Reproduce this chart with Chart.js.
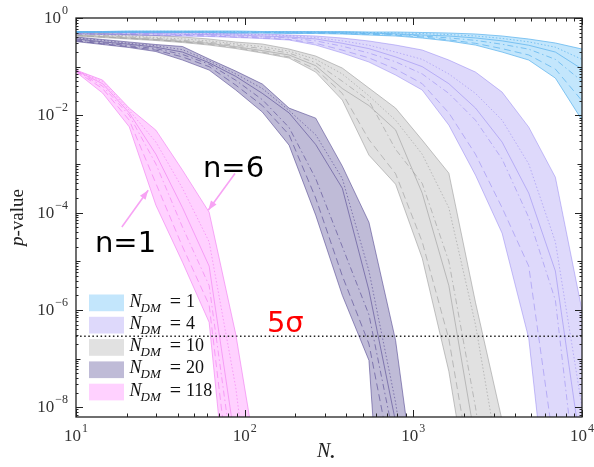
<!DOCTYPE html>
<html>
<head>
<meta charset="utf-8">
<script src="https://cdn.jsdelivr.net/npm/chart.js@4/dist/chart.umd.min.js"></script>
<style>
  body { margin: 0; background: #fff; }
  canvas { display: block; }
</style>
</head>
<body>
<canvas id="myChart" width="594" height="467"></canvas>
<script>
// N_bullet grid (x values)
const N_STARS = [10, 14.38, 20.69, 29.76, 42.81, 61.58, 88.59, 127.4, 183.3, 263.7,
                 379.3, 545.6, 784.8, 1129, 1624, 2336, 3360, 4833, 6952, 10000];

// log10(p-value), one array per curve n=1..6
// N_DM = 1
const dm1_n1 = [-0.298,-0.298,-0.298,-0.298,-0.298,-0.298,-0.309,-0.309,-0.319,-0.319,-0.329,-0.350,-0.370,-0.412,-0.473,-0.556,-0.700,-0.864,-1.235,-2.099];
const dm1_n2 = [-0.294,-0.294,-0.292,-0.292,-0.292,-0.294,-0.300,-0.302,-0.308,-0.310,-0.318,-0.335,-0.352,-0.390,-0.450,-0.520,-0.630,-0.760,-1.050,-1.700];
const dm1_n3 = [-0.290,-0.288,-0.286,-0.285,-0.286,-0.288,-0.292,-0.296,-0.300,-0.302,-0.308,-0.320,-0.338,-0.370,-0.410,-0.460,-0.540,-0.640,-0.850,-1.300];
const dm1_n4 = [-0.286,-0.284,-0.280,-0.279,-0.280,-0.282,-0.286,-0.290,-0.293,-0.295,-0.300,-0.310,-0.325,-0.350,-0.370,-0.410,-0.470,-0.560,-0.700,-1.050];
const dm1_n5 = [-0.282,-0.281,-0.274,-0.273,-0.274,-0.275,-0.278,-0.284,-0.286,-0.288,-0.290,-0.298,-0.305,-0.320,-0.340,-0.370,-0.420,-0.490,-0.600,-0.850];
const dm1_n6 = [-0.278,-0.278,-0.267,-0.267,-0.267,-0.267,-0.267,-0.278,-0.278,-0.278,-0.278,-0.288,-0.288,-0.298,-0.309,-0.329,-0.370,-0.432,-0.514,-0.638];
// N_DM = 4
const dm4_n1 = [-0.329,-0.340,-0.350,-0.360,-0.370,-0.381,-0.401,-0.422,-0.453,-0.556,-0.720,-0.905,-1.173,-1.481,-2.202,-3.230,-4.424,-6.584,-11.56,-16];
const dm4_n2 = [-0.320,-0.330,-0.340,-0.350,-0.360,-0.370,-0.390,-0.410,-0.440,-0.520,-0.660,-0.820,-1.050,-1.350,-1.950,-2.800,-3.900,-5.100,-9.000,-14];
const dm4_n3 = [-0.300,-0.310,-0.320,-0.330,-0.340,-0.350,-0.370,-0.390,-0.410,-0.470,-0.580,-0.720,-0.900,-1.150,-1.550,-2.100,-2.900,-4.100,-5.800,-10.5];
const dm4_n4 = [-0.290,-0.300,-0.310,-0.320,-0.330,-0.340,-0.350,-0.370,-0.390,-0.430,-0.520,-0.630,-0.800,-1.000,-1.350,-1.850,-2.550,-3.600,-5.200,-9.0];
const dm4_n5 = [-0.284,-0.288,-0.298,-0.300,-0.310,-0.318,-0.330,-0.345,-0.365,-0.400,-0.470,-0.560,-0.700,-0.850,-1.150,-1.550,-2.100,-3.000,-4.600,-8.0];
const dm4_n6 = [-0.278,-0.278,-0.288,-0.288,-0.298,-0.309,-0.319,-0.329,-0.350,-0.370,-0.412,-0.473,-0.556,-0.658,-0.864,-1.111,-1.523,-2.243,-3.272,-6.008];
// N_DM = 10
const dm10_n1 = [-0.370,-0.401,-0.432,-0.463,-0.504,-0.556,-0.628,-0.720,-0.823,-1.111,-1.687,-2.819,-3.416,-4.938,-7.263,-10.56,-14,-18];
const dm10_n2 = [-0.360,-0.390,-0.420,-0.450,-0.490,-0.540,-0.610,-0.700,-0.800,-1.050,-1.550,-2.500,-3.200,-4.600,-6.600,-9.800,-13,-17];
const dm10_n3 = [-0.330,-0.360,-0.390,-0.420,-0.460,-0.500,-0.560,-0.630,-0.720,-0.920,-1.300,-1.700,-2.700,-3.400,-5.000,-8.000,-11.5,-15];
const dm10_n4 = [-0.350,-0.380,-0.410,-0.440,-0.480,-0.520,-0.590,-0.670,-0.760,-0.980,-1.450,-1.800,-2.300,-3.600,-5.500,-8.700,-12,-16];
const dm10_n5 = [-0.310,-0.340,-0.370,-0.400,-0.430,-0.470,-0.530,-0.590,-0.680,-0.850,-1.150,-1.600,-2.100,-2.800,-3.900,-6.300,-9.500,-13];
const dm10_n6 = [-0.298,-0.319,-0.340,-0.360,-0.391,-0.432,-0.494,-0.535,-0.638,-0.782,-1.029,-1.440,-1.852,-2.510,-3.189,-5.844,-8.272,-10.33];
// N_DM = 20
const dm20_n1 = [-0.484,-0.545,-0.607,-0.689,-0.864,-1.070,-1.481,-1.934,-2.613,-4.053,-5.700,-7.037,-15,-20];
const dm20_n2 = [-0.470,-0.530,-0.590,-0.660,-0.800,-1.000,-1.380,-1.800,-2.400,-3.700,-5.300,-6.700,-9.5,-14];
const dm20_n3 = [-0.450,-0.510,-0.570,-0.630,-0.750,-0.950,-1.280,-1.680,-2.250,-3.300,-4.700,-6.100,-8.8,-13];
const dm20_n4 = [-0.430,-0.490,-0.540,-0.600,-0.700,-0.920,-1.200,-1.550,-1.950,-2.600,-3.500,-5.600,-8.3,-12];
const dm20_n5 = [-0.410,-0.460,-0.520,-0.570,-0.650,-0.880,-1.150,-1.450,-1.900,-2.400,-3.300,-5.200,-7.9,-11.5];
const dm20_n6 = [-0.391,-0.442,-0.494,-0.545,-0.586,-0.844,-1.091,-1.358,-1.852,-2.058,-3.045,-4.198,-6.626,-10.68];
// N_DM = 118
const dm118_n1 = [-1.111,-1.543,-2.237,-3.848,-5.020,-6.255,-11.7,-16];
const dm118_n2 = [-1.095,-1.450,-2.100,-3.400,-4.700,-5.900,-10.5,-15];
const dm118_n3 = [-1.085,-1.400,-2.000,-3.000,-4.300,-5.500,-9.5,-14];
const dm118_n4 = [-1.080,-1.350,-1.950,-2.800,-3.900,-5.100,-8.8,-13];
const dm118_n5 = [-1.075,-1.310,-1.900,-2.550,-3.500,-4.600,-7.6,-12];
const dm118_n6 = [-1.070,-1.276,-1.852,-2.305,-3.128,-3.992,-6.502,-9.8];

const DM_LABELS = ['1', '4', '10', '20', '118'];
const FIVE_SIGMA_P = 2.87e-7;
const Y_TICK_EXPONENTS = [0, -2, -4, -6, -8];
const X_TICK_EXPONENTS = [1, 2, 3, 4];

const bands = [
  { curves: [dm1_n1, dm1_n2, dm1_n3, dm1_n4, dm1_n5, dm1_n6], fill: 'rgba(135,206,250,0.5)', line: 'rgba(95,180,238,0.75)' },
  { curves: [dm4_n1, dm4_n2, dm4_n3, dm4_n4, dm4_n5, dm4_n6], fill: 'rgba(123,104,238,0.25)', line: 'rgba(123,104,238,0.4)' },
  { curves: [dm10_n1, dm10_n2, dm10_n3, dm10_n4, dm10_n5, dm10_n6], fill: 'rgba(169,169,169,0.35)', line: 'rgba(150,150,150,0.55)' },
  { curves: [dm20_n1, dm20_n2, dm20_n3, dm20_n4, dm20_n5, dm20_n6], fill: 'rgba(72,61,139,0.35)', line: 'rgba(72,61,139,0.55)' },
  { curves: [dm118_n1, dm118_n2, dm118_n3, dm118_n4, dm118_n5, dm118_n6], fill: 'rgba(255,0,255,0.18)', line: 'rgba(240,120,240,0.6)' },
];
const innerDash = [[7, 4], [6, 3, 1.5, 3], [], [1.5, 2]];

const pts = (arr) => arr.map((v, i) => ({ x: N_STARS[i], y: Math.pow(10, v) }));

const datasets = [];
bands.forEach((b) => {
  datasets.push({ data: pts(b.curves[5]), fill: '+1', backgroundColor: b.fill, borderColor: b.line, borderWidth: 1 });
  datasets.push({ data: pts(b.curves[0]), fill: false, borderColor: b.line, borderWidth: 1 });
  for (let j = 1; j <= 4; j++) {
    datasets.push({ data: pts(b.curves[j]), fill: false, borderColor: b.line, borderWidth: 1, borderDash: innerDash[j - 1] });
  }
});
datasets.push({
  data: [{ x: 10, y: FIVE_SIGMA_P }, { x: 10000, y: FIVE_SIGMA_P }],
  fill: false, borderColor: '#222', borderWidth: 1.4, borderDash: [1.5, 2.6]
});

const SERIF = '"Liberation Serif", "DejaVu Serif", serif';
const SANS = '"DejaVu Sans", sans-serif';

function drawPow(ctx, exp, x, yBase, align) {
  ctx.font = '17px ' + SERIF;
  const w1 = ctx.measureText('10').width;
  const e = exp < 0 ? '\u2212' + (-exp) : String(exp);
  ctx.font = '12px ' + SERIF;
  const w2 = ctx.measureText(e).width;
  let x0 = align === 'right' ? x - w1 - w2 - 1 : x - (w1 + w2 + 1) / 2;
  ctx.textAlign = 'left';
  ctx.textBaseline = 'alphabetic';
  ctx.font = '17px ' + SERIF;
  ctx.fillText('10', x0, yBase);
  ctx.font = '12px ' + SERIF;
  ctx.fillText(e, x0 + w1 + 1, yBase - 9);
}

function arrow(ctx, x1, y1, x2, y2) {
  ctx.beginPath(); ctx.moveTo(x1, y1); ctx.lineTo(x2, y2); ctx.stroke();
  const a = Math.atan2(y2 - y1, x2 - x1);
  ctx.beginPath();
  ctx.moveTo(x2, y2);
  ctx.lineTo(x2 - 10 * Math.cos(a - 0.35), y2 - 10 * Math.sin(a - 0.35));
  ctx.lineTo(x2 - 10 * Math.cos(a + 0.35), y2 - 10 * Math.sin(a + 0.35));
  ctx.closePath();
  ctx.fill();
}

const decorations = {
  id: 'decorations',
  afterDraw(chart) {
    const { ctx, chartArea: a, scales: { x, y } } = chart;
    ctx.save();
    ctx.strokeStyle = '#222';
    ctx.fillStyle = '#222';
    ctx.lineWidth = 1;
    const seg = (x1, y1, x2, y2) => { ctx.beginPath(); ctx.moveTo(x1, y1); ctx.lineTo(x2, y2); ctx.stroke(); };

    // ticks, inward on all four sides
    for (let d = 1; d <= 4; d++) {
      for (let m = 1; m <= 9; m++) {
        const v = m * Math.pow(10, d);
        if (v > 10000) break;
        const px = Math.round(x.getPixelForValue(v)) + 0.5;
        const len = m === 1 ? 7 : 3.5;
        seg(px, a.bottom, px, a.bottom - len);
        seg(px, a.top, px, a.top + len);
      }
    }
    for (let d = -9; d <= 0; d++) {
      for (let m = 1; m <= 9; m++) {
        const v = m * Math.pow(10, d);
        if (v < y.min || v > 1) continue;
        const py = Math.round(y.getPixelForValue(v)) + 0.5;
        const len = m === 1 ? (d % 2 === 0 ? 7 : 4.5) : 2.5;
        seg(a.left, py, a.left + len, py);
        seg(a.right, py, a.right - len, py);
      }
    }
    ctx.lineWidth = 1.3;
    ctx.strokeRect(a.left, a.top, a.right - a.left, a.bottom - a.top);

    // tick labels
    ctx.fillStyle = '#333';
    Y_TICK_EXPONENTS.forEach((e) => {
      drawPow(ctx, e, a.left - 8, y.getPixelForValue(Math.pow(10, e)) + 5, 'right');
    });
    X_TICK_EXPONENTS.forEach((e) => {
      drawPow(ctx, e, x.getPixelForValue(Math.pow(10, e)), a.bottom + 24, 'center');
    });

    // axis titles
    ctx.fillStyle = '#222';
    ctx.save();
    ctx.translate(23, (a.top + a.bottom) / 2);
    ctx.rotate(-Math.PI / 2);
    ctx.font = 'italic 19px ' + SERIF;
    const wp = ctx.measureText('p').width;
    ctx.font = '19px ' + SERIF;
    const wv = ctx.measureText('-value').width;
    ctx.textAlign = 'left';
    ctx.textBaseline = 'alphabetic';
    ctx.font = 'italic 19px ' + SERIF;
    ctx.fillText('p', -(wp + wv) / 2, 0);
    ctx.font = '19px ' + SERIF;
    ctx.fillText('-value', -(wp + wv) / 2 + wp, 0);
    ctx.restore();

    ctx.font = 'italic 20px ' + SERIF;
    ctx.textAlign = 'left';
    const nx = (a.left + a.right) / 2 - 12;
    ctx.fillText('N', nx, a.bottom + 40);
    ctx.font = '13px ' + SERIF;
    ctx.fillText('\u2022', nx + 13, a.bottom + 44);

    // legend
    bands.forEach((b, i) => {
      const top = 294.5 + i * 22.3;
      ctx.fillStyle = b.fill;
      ctx.fillRect(89, top, 35, 16.7);
      ctx.fillStyle = '#111';
      let tx = 129.5;
      const base = top + 12;
      ctx.font = 'italic 18px ' + SERIF;
      ctx.fillText('N', tx, base);
      tx += ctx.measureText('N').width - 1;
      ctx.font = 'italic 13px ' + SERIF;
      ctx.fillText('DM', tx, base + 5);
      tx += ctx.measureText('DM').width + 9;
      ctx.font = '20px ' + SERIF;
      ctx.fillText('=', tx, base + 1);
      tx += ctx.measureText('=').width + 5;
      ctx.font = '18px ' + SERIF;
      ctx.fillText(DM_LABELS[i], tx, base);
    });

    // annotations
    const X = (v) => x.getPixelForValue(v);
    const Y = (v) => y.getPixelForValue(v);
    ctx.font = '29px ' + SANS;
    ctx.fillStyle = '#000';
    ctx.fillText('n=1', X(12.96), Y(Math.pow(10, -4.815)));
    ctx.fillText('n=6', X(56.6), Y(Math.pow(10, -3.27)));
    ctx.fillStyle = '#ff0000';
    ctx.fillText('5\u03c3', X(135.5), Y(Math.pow(10, -6.46)));

    ctx.strokeStyle = '#f7a3f4';
    ctx.fillStyle = '#f7a3f4';
    ctx.lineWidth = 1.6;
    arrow(ctx, X(18.7), Y(Math.pow(10, -4.294)), X(26.8), Y(Math.pow(10, -3.539)));
    arrow(ctx, X(87.6), Y(Math.pow(10, -3.196)), X(60.8), Y(Math.pow(10, -3.95)));
    ctx.restore();
  }
};

new Chart(document.getElementById('myChart'), {
  type: 'line',
  data: { datasets },
  options: {
    responsive: false,
    animation: false,
    layout: { padding: { left: 76, right: 12, top: 18, bottom: 50 } },
    elements: { point: { radius: 0 }, line: { tension: 0 } },
    plugins: {
      legend: { display: false },
      tooltip: { enabled: false },
      filler: { drawTime: 'beforeDatasetsDraw' }
    },
    scales: {
      x: { type: 'logarithmic', min: 10, max: 10000, display: false },
      y: { type: 'logarithmic', min: 6.3e-9, max: 1, display: false }
    }
  },
  plugins: [decorations]
});
</script>
</body>
</html>
